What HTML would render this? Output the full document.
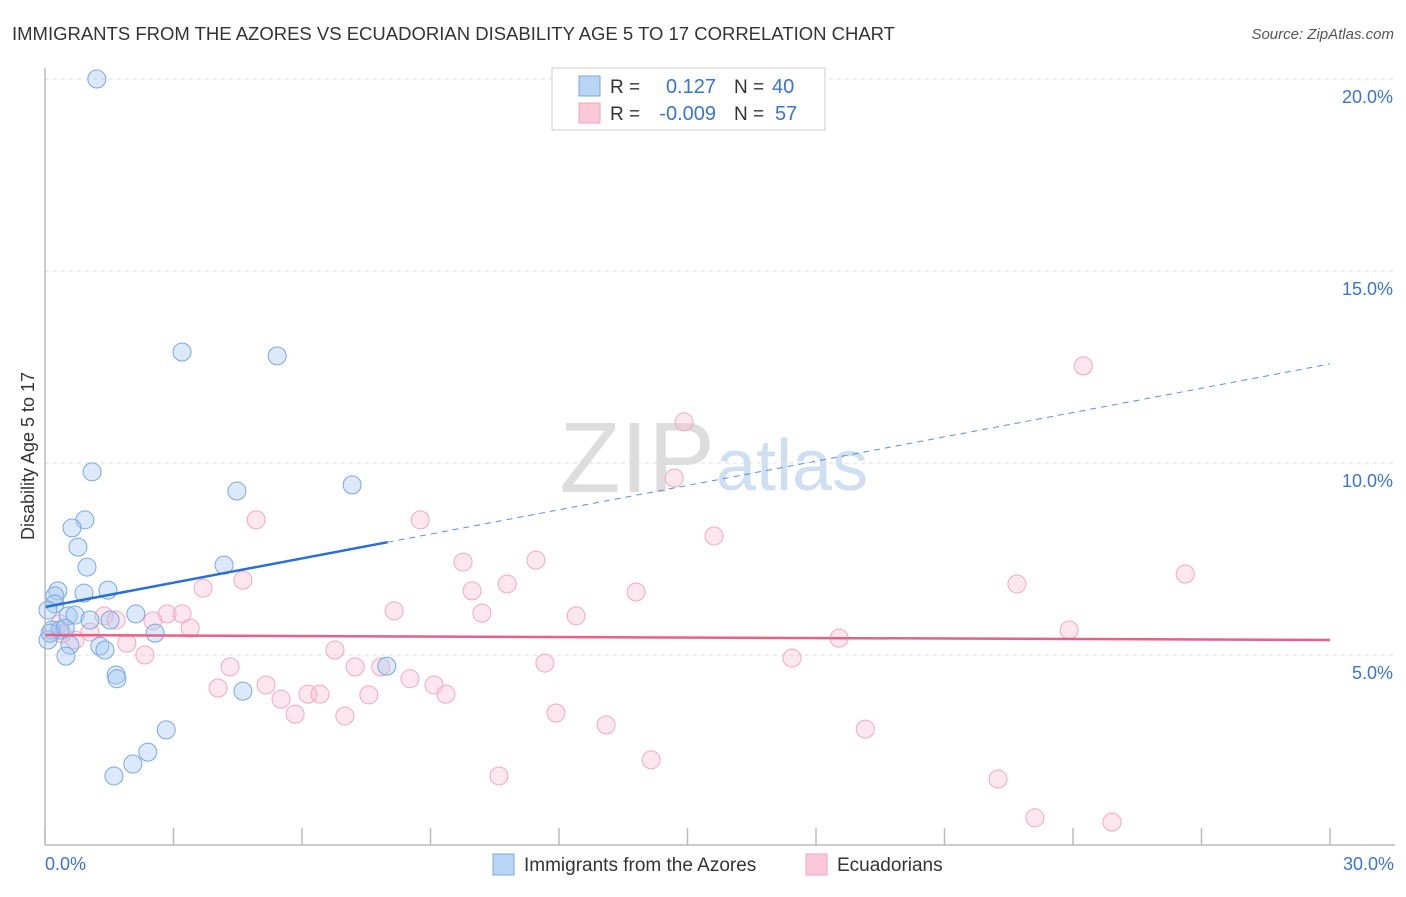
<!DOCTYPE html>
<html><head><meta charset="utf-8"><style>
body{margin:0;background:#fff;font-family:"Liberation Sans",sans-serif}
svg text{font-family:"Liberation Sans",sans-serif}
</style></head><body>
<svg id="c" width="1406" height="892">
<text x="12" y="40" font-size="18" fill="#333" textLength="883" lengthAdjust="spacingAndGlyphs">IMMIGRANTS FROM THE AZORES VS ECUADORIAN DISABILITY AGE 5 TO 17 CORRELATION CHART</text>
<text x="1394" y="39" font-size="15" fill="#555" font-style="italic" text-anchor="end">Source: ZipAtlas.com</text>
<text x="34" y="456" font-size="18" fill="#333" text-anchor="middle" transform="rotate(-90 34 456)">Disability Age 5 to 17</text>
<text x="715" y="492" font-size="100" fill="#ddd" font-family="Liberation Serif" text-anchor="end">ZIP</text>
<text x="716" y="490" font-size="72" fill="#cfdff2">atlas</text>
<g id="grid"></g><g id="pts"></g><g id="lines"></g>
<line x1="45" y1="68" x2="45" y2="845" stroke="#bbb" stroke-width="1.5"/>
<line x1="45" y1="845" x2="1395" y2="845" stroke="#bbb" stroke-width="1.5"/>
<text x="45" y="870" font-size="18" fill="#3a74d0">0.0%</text>
<text x="1394" y="870" font-size="18" fill="#3a74d0" text-anchor="end">30.0%</text>
<g>
<rect x="552" y="68" width="273" height="62" fill="#fff" stroke="#ccc"/>
<rect x="579" y="76" width="21" height="20" fill="#b9d4f5" stroke="#7aa7e3"/>
<rect x="579" y="103" width="21" height="20" fill="#fbc8d8" stroke="#f0a3ba"/>
<text x="610" y="93" font-size="19" fill="#333">R =</text><text x="716" y="93" font-size="20" fill="#3a74d0" text-anchor="end">0.127</text>
<text x="734" y="93" font-size="19" fill="#333">N =</text><text x="772" y="93" font-size="20" fill="#3a74d0">40</text>
<text x="610" y="120" font-size="19" fill="#333">R =</text><text x="716" y="120" font-size="20" fill="#3a74d0" text-anchor="end">-0.009</text>
<text x="734" y="120" font-size="19" fill="#333">N =</text><text x="775" y="120" font-size="20" fill="#3a74d0">57</text>
</g>
<g>
<rect x="493" y="854" width="21" height="21" fill="#b9d4f5" stroke="#7aa7e3"/>
<text x="524" y="871" font-size="19" fill="#333">Immigrants from the Azores</text>
<rect x="806" y="854" width="21" height="21" fill="#fbc8d8" stroke="#f0a3ba"/>
<text x="837" y="871" font-size="19" fill="#333">Ecuadorians</text>
</g>
</svg>
<script>
const yTicks=[5,10,15,20];
const xTickVals=[0,3,6,9,12,15,18,21,24,27,30];
const blueX=[1.21,3.20,5.42,1.10,4.48,7.17,0.93,0.63,0.77,0.98,4.18,0.30,0.91,1.47,0.23,0.23,0.07,0.54,0.70,1.05,1.52,2.12,0.16,0.35,0.47,2.57,0.07,0.58,1.28,1.40,0.49,1.66,1.68,7.98,4.62,2.83,2.40,2.05,1.61,0.12];
const blueY=[20.0,12.89,12.79,9.77,9.27,9.43,8.52,8.31,7.81,7.29,7.34,6.67,6.61,6.69,6.54,6.33,6.17,6.02,6.04,5.91,5.91,6.07,5.65,5.65,5.70,5.57,5.39,5.26,5.23,5.13,4.97,4.48,4.38,4.71,4.06,3.05,2.47,2.16,1.85,5.57];
const pinkX=[24.24,14.92,14.69,4.93,8.76,15.62,9.76,11.46,26.62,4.62,3.69,10.79,9.97,13.80,22.69,8.15,10.20,12.40,2.85,3.20,2.52,1.38,1.66,3.39,1.05,0.35,0.40,0.70,1.91,18.54,23.91,6.77,2.33,17.44,11.67,4.32,7.24,7.84,8.52,9.08,4.04,5.16,6.14,6.42,9.36,5.51,7.56,5.84,7.00,11.93,13.10,19.15,14.15,10.60,22.25,23.11,24.91];
const pinkY=[12.53,11.07,9.61,8.52,8.52,8.10,7.42,7.47,7.11,6.95,6.74,6.85,6.67,6.64,6.85,6.15,6.09,6.02,6.07,6.07,5.89,6.02,5.91,5.70,5.60,5.81,5.55,5.39,5.31,5.44,5.65,5.13,5.00,4.92,4.79,4.69,4.69,4.69,4.38,4.22,4.14,4.22,3.98,3.98,3.98,3.85,3.96,3.46,3.41,3.49,3.18,3.07,2.27,1.85,1.77,0.76,0.65];
const blueTrend=[6.25,12.58];
const pinkTrend=[5.52,5.39];
const blueSolidEnd=8;
const NS='http://www.w3.org/2000/svg';
const sx=v=>45+v*1285/30, sy=v=>847-v*38.4;
function mk(t,a,p){const e=document.createElementNS(NS,t);for(const k in a)e.setAttribute(k,a[k]);p.appendChild(e);return e;}
const grid=document.getElementById('grid');
yTicks.forEach(v=>{
 const l=mk('line',{x1:45,x2:1395,y1:sy(v),y2:sy(v),stroke:'#ddd','stroke-dasharray':'4,4'},grid);
 
 
 const t=mk('text',{x:1393,y:sy(v)+24,'font-size':18,fill:'#3a74d0','text-anchor':'end'},grid);
 t.textContent=v.toFixed(1)+'%';
 
 
});
xTickVals.forEach(v=>{
 const l=mk('line',{x1:sx(v),x2:sx(v),y1:828,y2:845,stroke:'#bbb','stroke-width':1.5},grid);
 
 
});
const pts=document.getElementById('pts');
pinkX.forEach((x,i)=>{
 const c=mk('circle',{cx:sx(x),cy:sy(pinkY[i]),r:9,fill:'rgba(248,185,205,0.35)',stroke:'#f2a8be','stroke-width':1},pts);
 
 
});
blueX.forEach((x,i)=>{
 const c=mk('circle',{cx:sx(x),cy:sy(blueY[i]),r:9,fill:'rgba(165,200,242,0.4)',stroke:'#78a8e4','stroke-width':1},pts);
 
 
});
const lines=document.getElementById('lines');
const by=x=>blueTrend[0]+(blueTrend[1]-blueTrend[0])*x/30;
let l=mk('line',{x1:sx(0),y1:sy(by(0)),x2:sx(blueSolidEnd),y2:sy(by(blueSolidEnd)),stroke:'#2a6fd6','stroke-width':2.5},lines);


l=mk('line',{x1:sx(blueSolidEnd),y1:sy(by(blueSolidEnd)),x2:sx(30),y2:sy(by(30)),stroke:'#5a90dc','stroke-width':1,'stroke-dasharray':'6,5'},lines);


l=mk('line',{x1:sx(0),y1:sy(pinkTrend[0]),x2:sx(30),y2:sy(pinkTrend[1]),stroke:'#e8608a','stroke-width':2.5},lines);


</script>
</body></html>
